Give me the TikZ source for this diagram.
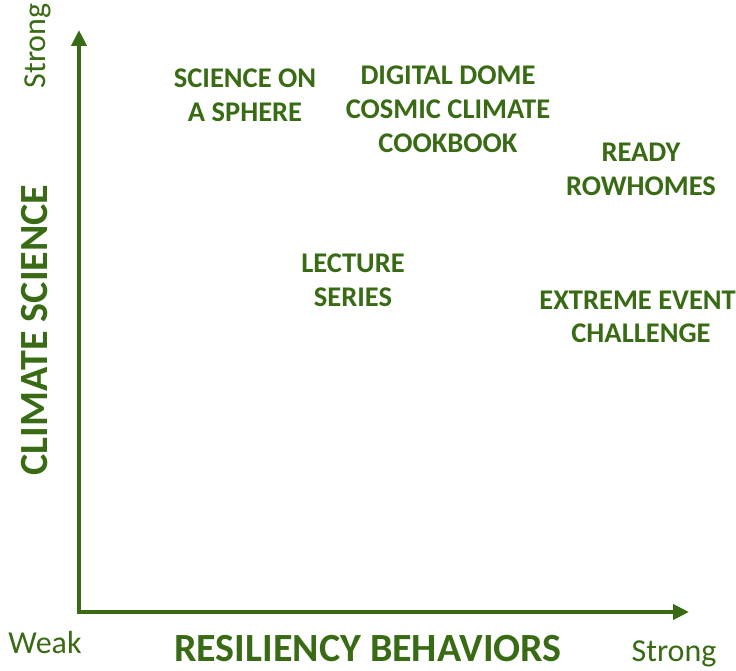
\documentclass[tikz,border=0pt]{standalone}
\usepackage{fontspec}
\setmainfont{Carlito}
\usetikzlibrary{arrows.meta}
\definecolor{leaf}{HTML}{386B14}
\begin{document}
\begin{tikzpicture}[x=1pt,y=-1pt,
  item/.style={text=leaf,align=center,font=\fontsize{28.5}{34}\selectfont\bfseries,inner sep=0pt},
  axislabel/.style={text=leaf,font=\fontsize{40}{44}\selectfont\bfseries,inner sep=0pt},
  endlabel/.style={text=leaf,font=\fontsize{32}{36}\selectfont,inner sep=0pt},
  axisline/.style={draw=leaf,line width=4pt,-{Triangle[length=16pt,width=15pt]}}]
\useasboundingbox (0,0) rectangle (736,671);
% axes
\coordinate (origin) at (79,612);
\coordinate (ytip) at (79,30);
\coordinate (xtip) at (689,612);
\draw[axisline] ([yshift=2pt]origin) -- (ytip);
\draw[axisline] ([xshift=-2pt]origin) -- (xtip);
% axis titles and ends
\node[axislabel,rotate=90] (ytitle) at (35,330) {CLIMATE SCIENCE};
\node[axislabel,anchor=base,text depth=0pt] (xtitle) at (368,661) {RESILIENCY BEHAVIORS};
\node[endlabel,rotate=90] (ystrong) at (38,46) {Strong};
\node[endlabel] (weak) at (45,643) {Weak};
\node[endlabel] (xstrong) at (674,654) {Strong};
% programmes
\node[item] (sos) at (245,95) {SCIENCE ON\\A SPHERE};
\node[item] (dome) at (448,109) {DIGITAL DOME\\COSMIC CLIMATE\\COOKBOOK};
\node[item] (ready) at (641,169) {READY\\ROWHOMES};
\node[item] (lecture) at (353,280) {LECTURE\\SERIES};
\node[item,anchor=east] (extreme) at (736,300) {EXTREME EVENT};
\node[item] (challenge) at (641,333) {CHALLENGE};
\end{tikzpicture}
\end{document}
